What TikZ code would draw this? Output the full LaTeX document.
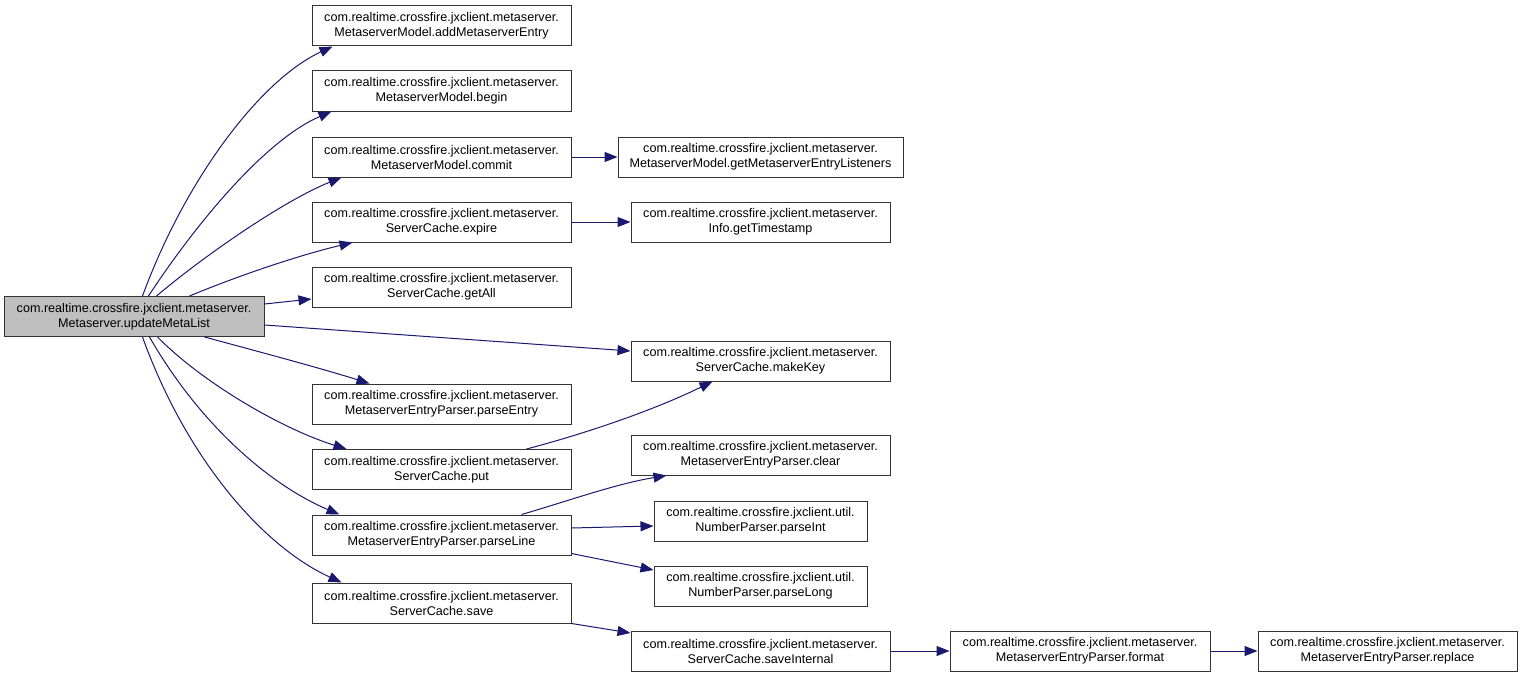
\documentclass[tikz,border=0pt]{standalone}
\usepackage{fontspec}
\setmainfont{Liberation Sans}
\usetikzlibrary{arrows.meta}
\definecolor{edgeblue}{HTML}{191970}
\definecolor{rootgray}{HTML}{BFBFBF}
\begin{document}
\begin{tikzpicture}[x=1pt,y=-1pt,
  fn/.style={draw=black!80, line width=1pt, fill=white, inner sep=0pt,
    minimum height=40pt, align=center, font=\fontsize{12.6}{15}\selectfont},
  rootfn/.style={fn, fill=rootgray},
  call/.style={draw=edgeblue, line width=1pt, -{Triangle[length=13pt,width=10pt]}}]
\useasboundingbox[fill=white] (0,0) rectangle (1521,677);

% root
\node[rootfn, minimum width=260pt] (root) at (134,316.5) {com.realtime.crossfire.jxclient.metaserver.\\Metaserver.updateMetaList};

% column 2
\node[fn, minimum width=259pt] (addmeta) at (441.5,26) {com.realtime.crossfire.jxclient.metaserver.\\MetaserverModel.addMetaserverEntry};
\node[fn, minimum width=259pt] (begin) at (441.5,91) {com.realtime.crossfire.jxclient.metaserver.\\MetaserverModel.begin};
\node[fn, minimum width=259pt] (commit) at (441.5,157) {com.realtime.crossfire.jxclient.metaserver.\\MetaserverModel.commit};
\node[fn, minimum width=259pt] (expire) at (441.5,222) {com.realtime.crossfire.jxclient.metaserver.\\ServerCache.expire};
\node[fn, minimum width=259pt] (getall) at (441.5,287) {com.realtime.crossfire.jxclient.metaserver.\\ServerCache.getAll};
\node[fn, minimum width=259pt] (parseentry) at (441.5,404) {com.realtime.crossfire.jxclient.metaserver.\\MetaserverEntryParser.parseEntry};
\node[fn, minimum width=259pt] (put) at (441.5,469.5) {com.realtime.crossfire.jxclient.metaserver.\\ServerCache.put};
\node[fn, minimum width=259pt] (parseline) at (441.5,535) {com.realtime.crossfire.jxclient.metaserver.\\MetaserverEntryParser.parseLine};
\node[fn, minimum width=259pt] (save) at (441.5,603) {com.realtime.crossfire.jxclient.metaserver.\\ServerCache.save};

% column 3
\node[fn, minimum width=285pt] (getmel) at (760.5,157) {com.realtime.crossfire.jxclient.metaserver.\\MetaserverModel.getMetaserverEntryListeners};
\node[fn, minimum width=259pt] (gettime) at (760.5,222) {com.realtime.crossfire.jxclient.metaserver.\\Info.getTimestamp};
\node[fn, minimum width=259pt] (makekey) at (760.5,361) {com.realtime.crossfire.jxclient.metaserver.\\ServerCache.makeKey};
\node[fn, minimum width=259pt] (clear) at (760.5,455) {com.realtime.crossfire.jxclient.metaserver.\\MetaserverEntryParser.clear};
\node[fn, minimum width=213pt] (parseint) at (760.5,521) {com.realtime.crossfire.jxclient.util.\\NumberParser.parseInt};
\node[fn, minimum width=213pt] (parselong) at (760.5,586) {com.realtime.crossfire.jxclient.util.\\NumberParser.parseLong};
\node[fn, minimum width=259pt] (saveint) at (760.5,651) {com.realtime.crossfire.jxclient.metaserver.\\ServerCache.saveInternal};

% column 4, 5
\node[fn, minimum width=260pt] (format) at (1080,651) {com.realtime.crossfire.jxclient.metaserver.\\MetaserverEntryParser.format};
\node[fn, minimum width=259pt] (replace) at (1387.5,651) {com.realtime.crossfire.jxclient.metaserver.\\MetaserverEntryParser.replace};

% edges from root
\draw[call] ([xshift=139pt]root.north west) .. controls (185,180) and (260,80) .. ([xshift=21pt]addmeta.south west);
\draw[call] ([xshift=145pt]root.north west) .. controls (195,225) and (265,140) .. ([xshift=20pt]begin.south west);
\draw[call] ([xshift=153pt]root.north west) .. controls (205,255) and (285,200) .. ([xshift=30pt]commit.south west);
\draw[call] ([xshift=186pt]root.north west) .. controls (240,275) and (300,255) .. ([xshift=41pt]expire.south west);
\draw[call] ([yshift=12.5pt]root.east) -- ([yshift=-12pt]getall.west);
\draw[call] ([yshift=-8.5pt]root.east) -- ([yshift=10pt]makekey.west);
\draw[call] ([xshift=201pt]root.south west) .. controls (260,352) and (320,368) .. ([xshift=58pt]parseentry.north west);
\draw[call] ([xshift=154pt]root.south west) .. controls (205,385) and (285,430) .. ([xshift=35pt]put.north west);
\draw[call] ([xshift=146pt]root.south west) .. controls (200,425) and (270,485) .. ([xshift=28pt]parseline.north west);
\draw[call] ([xshift=139pt]root.south west) .. controls (185,455) and (260,545) .. ([xshift=30pt]save.north west);

% further edges
\draw[call] (commit.east) -- (getmel.west);
\draw[call] (expire.east) -- (gettime.west);
\draw[call] ([xshift=215pt]put.north west) .. controls (580,435) and (650,412) .. ([xshift=82pt]makekey.south west);
\draw[call] ([xshift=210pt]parseline.north west) .. controls (565,502) and (615,484) .. ([xshift=36pt]clear.south west);
\draw[call] ([yshift=7pt]parseline.east) -- ([yshift=-5pt]parseint.west);
\draw[call] ([yshift=2pt]parseline.south east) -- ([yshift=16pt]parselong.west);
\draw[call] (save.south east) -- ([yshift=18pt]saveint.west);
\draw[call] (saveint.east) -- (format.west);
\draw[call] (format.east) -- (replace.west);
\end{tikzpicture}
\end{document}
